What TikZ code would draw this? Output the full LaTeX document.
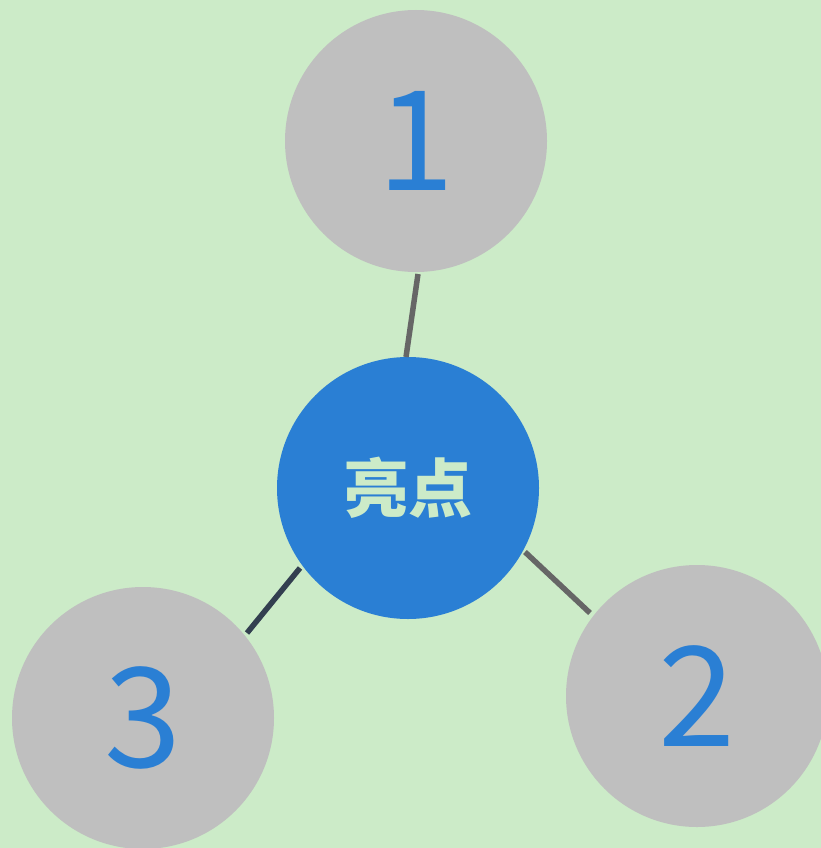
\documentclass[tikz,border=0pt]{standalone}
\usepackage{fontspec}
\setmainfont{Carlito}
\newfontfamily\cjk{Noto Sans CJK SC}
\definecolor{bgc}{HTML}{CCEBC8}
\definecolor{grayc}{HTML}{BFBFBF}
\definecolor{bluec}{HTML}{2A7FD4}
\definecolor{linegray}{HTML}{666666}
\definecolor{linenavy}{HTML}{333F50}
\begin{document}
\begin{tikzpicture}[x=1pt,y=-1pt,
  outer/.style={circle,fill=grayc,minimum size=262pt,inner sep=0pt,text=bluec,font=\cjk\fontsize{139}{139}\selectfont},
  hub/.style={circle,fill=bluec,minimum size=262pt,inner sep=0pt,text=bgc,font=\cjk\bfseries\fontsize{64}{64}\selectfont},
  conn/.style={line width=5.5pt}]
\path[use as bounding box,fill=bgc] (0,0) rectangle (821,848);
\node[outer] (n1) at (416,141) {1};
\node[outer] (n2) at (697,696) {2};
\node[outer] (n3) at (143,718) {3};
\node[hub] (c) at (408,488) {亮点};
\coordinate (a1) at (418,274);
\coordinate (b1) at (406,357);
\coordinate (a2) at (525,552);
\coordinate (b2) at (590,613);
\coordinate (a3) at (300,568);
\coordinate (b3) at (247,633);
\draw[conn,linegray] (a1) -- (b1);
\draw[conn,linegray] (a2) -- (b2);
\draw[conn,linenavy] (a3) -- (b3);
\end{tikzpicture}
\end{document}
